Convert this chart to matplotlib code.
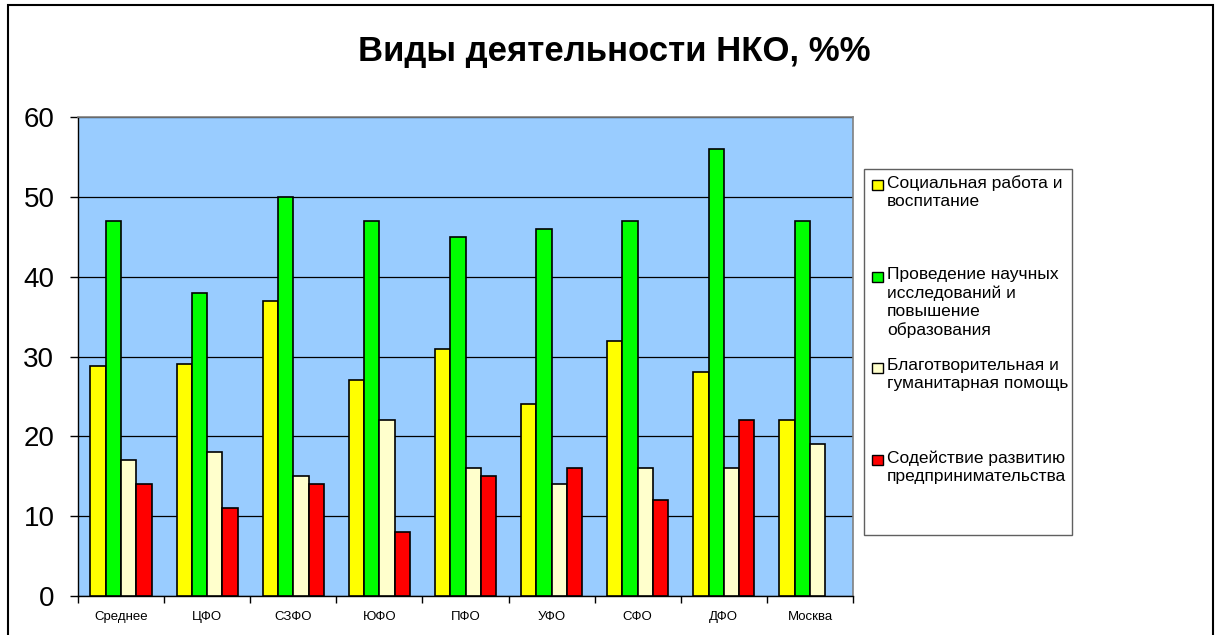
import numpy as np
import matplotlib
matplotlib.use('Agg')
import matplotlib.pyplot as plt
from matplotlib.patches import Rectangle

plt.rcParams['font.family'] = ['Liberation Sans', 'DejaVu Sans']

# -----------------------------
# данные
# -----------------------------
categories = ['Среднее', 'ЦФО', 'СЗФО', 'ЮФО', 'ПФО', 'УФО', 'СФО', 'ДФО', 'Москва']
social = [28.8, 29, 37, 27, 31, 24, 32, 28, 22]
science = [47, 38, 50, 47, 45, 46, 47, 56, 47]
charity = [17, 18, 15, 22, 16, 14, 16, 16, 19]
business = [14, 11, 14, 8, 15, 16, 12, 22, np.nan]

series_labels = ['Социальная работа и\nвоспитание',
                 'Проведение научных\nисследований и\nповышение\nобразования',
                 'Благотворительная и\nгуманитарная помощь',
                 'Содействие развитию\nпредпринимательства']
colors = ['#FFFF00', '#00FF00', '#FFFFCC', '#FF0000']
title = 'Виды деятельности НКО, %%'

# -----------------------------
# рисунок
# -----------------------------
fig = plt.figure(figsize=(12.16, 6.35), dpi=100)
W, H = 1216, 635

# внешняя рамка
fig.patches.append(Rectangle((8 / W, -0.05), (1213 - 8) / W, 1.05 - 5 / H,
                             transform=fig.transFigure, fill=False,
                             edgecolor='black', linewidth=1.5))

ax = fig.add_axes([78 / W, 1 - 596 / H, (853 - 78) / W, (596 - 117) / H])
ax.set_facecolor('#99CCFF')

x = np.arange(len(categories))
bw = 0.178
data = [social, science, charity, business]
for i, (vals, c) in enumerate(zip(data, colors)):
    ax.bar(x + (i - 1.5) * bw, vals, width=bw, color=c,
           edgecolor='black', linewidth=1.2, zorder=3)

ax.set_xlim(-0.5, len(categories) - 0.5)
ax.set_ylim(0, 60)
ax.set_yticks(np.arange(0, 61, 10))
ax.tick_params(axis='y', labelsize=20, direction='out', length=6, width=1, pad=11)
ax.yaxis.grid(True, color='black', linewidth=0.9, zorder=1)
ax.set_axisbelow(True)

ax.set_xticks(np.arange(-0.5, len(categories), 1))
ax.set_xticklabels([])
ax.set_xticks(x, minor=True)
ax.set_xticklabels(categories, minor=True, fontsize=9.5)
ax.tick_params(axis='x', which='major', direction='out', length=5, width=1)
ax.tick_params(axis='x', which='minor', length=0, pad=11)

for side in ['top', 'right']:
    ax.spines[side].set_color('#808080')
    ax.spines[side].set_linewidth(1.2)
for side in ['left', 'bottom']:
    ax.spines[side].set_color('black')
    ax.spines[side].set_linewidth(1.0)

fig.text(614 / W, 1 - 52 / H, title, ha='center', va='center',
         fontsize=25, fontweight='bold')

# -----------------------------
# легенда
# -----------------------------
lx0, lx1, ly0, ly1 = 864, 1072, 169, 535
fig.patches.append(Rectangle((lx0 / W, 1 - ly1 / H), (lx1 - lx0) / W, (ly1 - ly0) / H,
                             transform=fig.transFigure, fill=True, facecolor='white',
                             edgecolor='#606060', linewidth=1.0))
item_y = [185, 277, 368, 460]
for yy, lab, c in zip(item_y, series_labels, colors):
    fig.patches.append(Rectangle((872 / W, 1 - (yy + 5) / H), 11 / W, 10 / H,
                                 transform=fig.transFigure, facecolor=c,
                                 edgecolor='black', linewidth=1.0))
    fig.text(887 / W, 1 - (yy - 10) / H, lab, ha='left', va='top',
             fontsize=12.5, linespacing=1.25)

fig.savefig('out.png', dpi=100)
